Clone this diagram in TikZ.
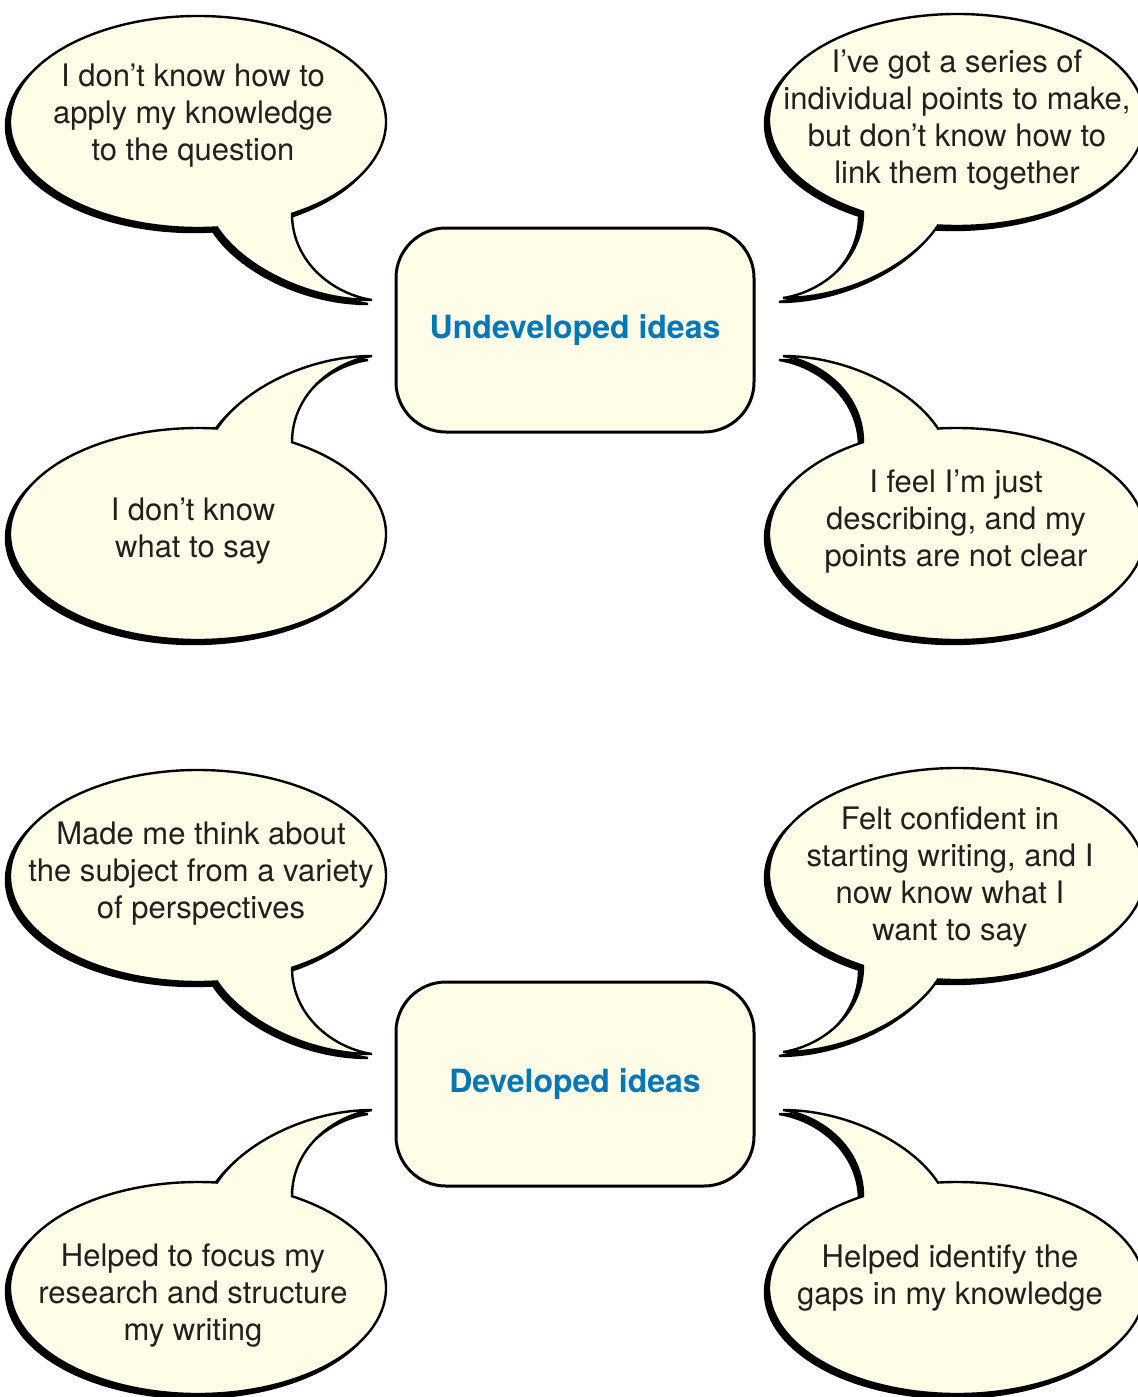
\documentclass[tikz,border=0pt]{standalone}
\usepackage{fontspec}
\setmainfont{TeX Gyre Heros}
\usepackage{tikz}
\definecolor{cream}{RGB}{255,252,232}
\definecolor{ideablue}{RGB}{0,119,182}
\definecolor{inkgrey}{RGB}{35,31,32}
\tikzset{
    bubble/.pic={
        \path[pic actions] (60:188 and 106)
            arc[start angle=60, end angle=-275.8, x radius=188, y radius=106]
            .. controls (45,145) and (110,178) .. (174,178)
            .. controls (135,172) and (94,140) .. (60:188 and 106) -- cycle;
    },
    bubbleshadow/.style={fill=black, draw=black, line width=1.2pt},
    bubblefill/.style={fill=cream, draw=black, line width=1.2pt},
    saying/.style={align=center, font=\fontsize{15.5}{18.5}\selectfont, text=inkgrey},
    ideabox/.style={draw=black, fill=cream, line width=1.5pt, rounded corners=25pt,
        minimum width=179pt, minimum height=102pt,
        font=\fontsize{16}{19}\selectfont\bfseries, text=ideablue}
}

\begin{document}
\begin{tikzpicture}[x=0.5pt, y=-0.5pt]
    \useasboundingbox (0,0) rectangle (1137,1397);

    % Undeveloped ideas
    \begin{scope}[shift={(0,0)}]
        \pic[bubbleshadow] at (194,126) {bubble};
        \pic[bubblefill] at (198,122) {bubble};
        \pic[bubbleshadow, xscale=-1] at (953,124) {bubble};
        \pic[bubblefill, xscale=-1] at (957,120) {bubble};
        \pic[bubbleshadow, yscale=-1] at (194,538) {bubble};
        \pic[bubblefill, yscale=-1] at (198,534) {bubble};
        \pic[bubbleshadow, xscale=-1, yscale=-1] at (953,538) {bubble};
        \pic[bubblefill, xscale=-1, yscale=-1] at (957,534) {bubble};

        \node[ideabox] (undev) at (575,330) {Undeveloped ideas};
        \node[saying] (apply) at (193,116) {I don’t know how to\\apply my knowledge\\to the question};
        \node[saying] (link) at (957,120) {I’ve got a series of\\individual points to make,\\but don’t know how to\\link them together};
        \node[saying] (say) at (193,531) {I don’t know\\what to say};
        \node[saying] (describe) at (956,522) {I feel I’m just\\describing, and my\\points are not clear};
    \end{scope}

    % Developed ideas
    \begin{scope}[shift={(0,754)}]
        \pic[bubbleshadow] at (194,126) {bubble};
        \pic[bubblefill] at (198,122) {bubble};
        \pic[bubbleshadow, xscale=-1] at (953,124) {bubble};
        \pic[bubblefill, xscale=-1] at (957,120) {bubble};
        \pic[bubbleshadow, yscale=-1] at (194,538) {bubble};
        \pic[bubblefill, yscale=-1] at (198,534) {bubble};
        \pic[bubbleshadow, xscale=-1, yscale=-1] at (953,538) {bubble};
        \pic[bubblefill, xscale=-1, yscale=-1] at (957,534) {bubble};

        \node[ideabox] (dev) at (575,330) {Developed ideas};
        \node[saying] (think) at (201,120) {Made me think about\\the subject from a variety\\of perspectives};
        \node[saying] (confident) at (950,123) {Felt confident in\\starting writing, and I\\now know what I\\want to say};
        \node[saying] (focus) at (193,542) {Helped to focus my\\research and structure\\my writing};
        \node[saying] (gaps) at (950,524) {Helped identify the\\gaps in my knowledge};
    \end{scope}
\end{tikzpicture}
\end{document}
